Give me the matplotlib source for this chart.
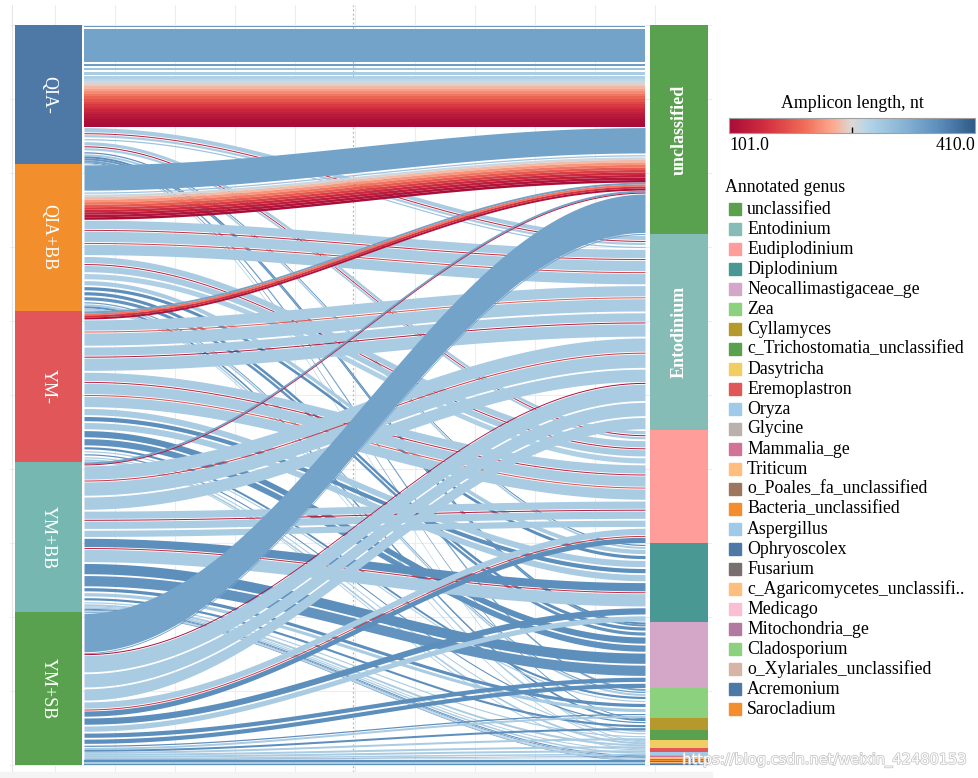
import numpy as np
import matplotlib
matplotlib.use('Agg')
import matplotlib.pyplot as plt
import matplotlib.patheffects as pe
from matplotlib.colors import LinearSegmentedColormap, Normalize
from matplotlib.cm import ScalarMappable
from matplotlib.patches import Rectangle

plt.rcParams['font.family'] = ['Liberation Serif', 'DejaVu Serif']

# samples (left axis)
samples = ['QIA-', 'QIA+BB', 'YM-', 'YM+BB', 'YM+SB']
sample_colors = ['#4e79a7', '#f28e2b', '#e15759', '#76b7b2', '#59a14f']

# genera (right axis)
genera = ['unclassified', 'Entodinium', 'Eudiplodinium', 'Diplodinium',
          'Neocallimastigaceae_ge', 'Zea', 'Cyllamyces',
          'c_Trichostomatia_unclassified', 'Dasytricha', 'Eremoplastron',
          'Oryza', 'Glycine', 'Mammalia_ge', 'Triticum',
          'o_Poales_fa_unclassified', 'Bacteria_unclassified', 'Aspergillus',
          'Ophryoscolex', 'Fusarium', 'c_Agaricomycetes_unclassifi..',
          'Medicago', 'Mitochondria_ge', 'Cladosporium',
          'o_Xylariales_unclassified', 'Acremonium', 'Sarocladium']
genus_colors = ['#59a14f', '#86bcb6', '#ff9d9a', '#499894', '#d4a6c8',
                '#8cd17d', '#b6992d', '#59a14f', '#f1ce63', '#e15759',
                '#a0cbe8', '#bab0ac', '#d37295', '#ffbe7d', '#9d7660',
                '#f28e2b', '#a0cbe8', '#4e79a7', '#79706e', '#ffbe7d',
                '#fabfd2', '#b07aa1', '#8cd17d', '#d7b5a6', '#4e79a7',
                '#f28e2b']

# ASV flows per sample: (genus, abundance, amplicon length)
qia_minus = [
    ('unclassified', 3, 352), ('unclassified', 35, 339), ('unclassified', 4, 345),
    ('unclassified', 4, 300), ('unclassified', 5, 286), ('unclassified', 2.5, 280),
    ('unclassified', 2.5, 270), ('unclassified', 2.5, 262), ('unclassified', 2.5, 250),
    ('unclassified', 2.5, 238), ('unclassified', 2.5, 226), ('unclassified', 2.5, 214),
    ('unclassified', 2.5, 202), ('unclassified', 2.5, 190), ('unclassified', 2.5, 178),
    ('unclassified', 2.5, 166), ('unclassified', 2.5, 156), ('unclassified', 2.5, 146),
    ('unclassified', 2.5, 136), ('unclassified', 2.5, 128), ('unclassified', 2.5, 120),
    ('unclassified', 2.5, 113), ('unclassified', 2.5, 107), ('unclassified', 2.5, 103),
    ('unclassified', 2.5, 101),
    ('Entodinium', 6, 286), ('Entodinium', 1, 130), ('Entodinium', 4, 286),
    ('Entodinium', 3, 300),
    ('Eudiplodinium', 5, 286), ('Eudiplodinium', 1, 115), ('Eudiplodinium', 4, 286),
    ('Diplodinium', 3, 364), ('Diplodinium', 2, 286),
    ('Neocallimastigaceae_ge', 2, 364), ('Neocallimastigaceae_ge', 2, 355),
    ('Zea', 2, 339), ('Cyllamyces', 1, 364), ('Dasytricha', 1, 286),
]
qia_bb = [
    ('unclassified', 27, 339), ('unclassified', 3, 300),
    ('unclassified', 2.5, 262), ('unclassified', 2.5, 240), ('unclassified', 2.5, 220),
    ('unclassified', 2.5, 200), ('unclassified', 2.5, 180), ('unclassified', 2.5, 160),
    ('unclassified', 2.5, 140), ('unclassified', 2.5, 125), ('unclassified', 2.5, 112),
    ('unclassified', 2.5, 103),
    ('Entodinium', 10, 286), ('Entodinium', 1, 140), ('Entodinium', 12, 286),
    ('Entodinium', 1, 160), ('Entodinium', 12, 290),
    ('Eudiplodinium', 8, 286), ('Eudiplodinium', 1, 125), ('Eudiplodinium', 8, 286),
    ('Eudiplodinium', 7, 280),
    ('Diplodinium', 6, 286), ('Diplodinium', 5, 364),
    ('Neocallimastigaceae_ge', 5, 364), ('Neocallimastigaceae_ge', 5, 358),
    ('Zea', 3, 345), ('Zea', 2, 286), ('Cyllamyces', 2, 364),
    ('c_Trichostomatia_unclassified', 2, 286), ('Dasytricha', 1, 286),
]
ym_minus = [
    ('unclassified', 2, 339), ('unclassified', 2, 200), ('unclassified', 2, 150),
    ('unclassified', 2, 110),
    ('Entodinium', 12, 286), ('Entodinium', 1, 180), ('Entodinium', 14, 286),
    ('Entodinium', 10, 286), ('Entodinium', 1, 120), ('Entodinium', 14, 286),
    ('Eudiplodinium', 10, 286), ('Eudiplodinium', 1, 130), ('Eudiplodinium', 12, 286),
    ('Eudiplodinium', 1, 170), ('Eudiplodinium', 12, 286),
    ('Diplodinium', 8, 286), ('Diplodinium', 6, 364), ('Diplodinium', 8, 286),
    ('Neocallimastigaceae_ge', 8, 364), ('Neocallimastigaceae_ge', 8, 360),
    ('Zea', 4, 364), ('Zea', 3, 286), ('Cyllamyces', 3, 364),
    ('c_Trichostomatia_unclassified', 3, 286), ('Dasytricha', 2, 286),
    ('Eremoplastron', 1, 286),
]
ym_bb = [
    ('unclassified', 2, 339), ('unclassified', 1, 118),
    ('Entodinium', 15, 286), ('Entodinium', 1, 150), ('Entodinium', 15, 286),
    ('Entodinium', 14, 286),
    ('Eudiplodinium', 9, 286), ('Eudiplodinium', 1, 120), ('Eudiplodinium', 9, 286),
    ('Eudiplodinium', 8, 286),
    ('Diplodinium', 10, 364), ('Diplodinium', 1, 140), ('Diplodinium', 14, 286),
    ('Neocallimastigaceae_ge', 12, 364), ('Neocallimastigaceae_ge', 12, 358),
    ('Zea', 5, 364), ('Zea', 5, 286), ('Cyllamyces', 4, 364),
    ('c_Trichostomatia_unclassified', 3, 286), ('Dasytricha', 2, 286),
    ('Eremoplastron', 1, 286), ('Oryza', 1.5, 286), ('Glycine', 1, 364),
    ('Mammalia_ge', 0.8, 364), ('Triticum', 0.8, 286),
    ('o_Poales_fa_unclassified', 0.8, 286), ('Bacteria_unclassified', 0.6, 364),
]
ym_sb = [
    ('unclassified', 40, 339), ('unclassified', 1, 339),
    ('Entodinium', 1, 104), ('Entodinium', 18, 286), ('Entodinium', 15, 286),
    ('Entodinium', 13, 286),
    ('Eudiplodinium', 8, 286), ('Eudiplodinium', 1, 150), ('Eudiplodinium', 7, 364),
    ('Diplodinium', 8, 364), ('Diplodinium', 7, 286),
    ('Neocallimastigaceae_ge', 6, 364), ('Neocallimastigaceae_ge', 6, 364),
    ('Zea', 3, 364), ('Zea', 2, 286), ('Cyllamyces', 2, 364),
    ('c_Trichostomatia_unclassified', 2, 286), ('Dasytricha', 2, 286),
    ('Eremoplastron', 2, 286), ('Oryza', 1.5, 286), ('Glycine', 0.5, 364),
    ('Mammalia_ge', 0.3, 364), ('Triticum', 0.3, 286),
    ('o_Poales_fa_unclassified', 0.3, 286), ('Bacteria_unclassified', 0.4, 364),
    ('Aspergillus', 0.7, 286), ('Ophryoscolex', 0.6, 364), ('Fusarium', 0.5, 364),
    ('c_Agaricomycetes_unclassifi..', 0.5, 286), ('Medicago', 0.4, 364),
    ('Mitochondria_ge', 0.4, 286), ('Cladosporium', 0.3, 364),
    ('o_Xylariales_unclassified', 0.3, 286), ('Acremonium', 0.3, 364),
    ('Sarocladium', 0.3, 286),
]
sample_flows = [qia_minus, qia_bb, ym_minus, ym_bb, ym_sb]

# colour scale for amplicon length
cmap = LinearSegmentedColormap.from_list('amplicon', [
    (0.0, '#a90c38'), (0.15, '#d32f3f'), (0.3, '#ef6a55'), (0.42, '#fca88e'),
    (0.5, '#dcd8d5'), (0.56, '#b7d5e8'), (0.7, '#8ab6d6'), (0.85, '#5d8fbd'),
    (1.0, '#2e5a87')])
norm = Normalize(101, 410)

# build records and stack them on both axes
records = []
for si, flows in enumerate(sample_flows):
    for k, (g, v, L) in enumerate(flows):
        records.append({'s': si, 'g': genera.index(g), 'v': v, 'L': L, 'k': k})

left_tot = [0.0] * len(samples)
y = 0.0
for si in range(len(samples)):
    for r in sorted([r for r in records if r['s'] == si], key=lambda r: (r['g'], r['k'])):
        r['y0'] = y
        y += r['v']
        left_tot[si] += r['v']
T = y

right_tot = [0.0] * len(genera)
y = 0.0
for gi in range(len(genera)):
    for r in sorted([r for r in records if r['g'] == gi], key=lambda r: (r['s'], r['k'])):
        r['y1'] = y
        y += r['v']
        right_tot[gi] += r['v']

W, H = 979, 778


def frac(x0, y0, x1, y1):
    return [x0 / W, 1 - y1 / H, (x1 - x0) / W, (y1 - y0) / H]


fig = plt.figure(figsize=(W / 100, H / 100), dpi=100)

# background grid
bg = fig.add_axes(frac(10, 5, 712, 772))
bg.set_xlim(10, 712)
bg.set_ylim(772, 5)
for gx in range(55, 712, 60):
    bg.axvline(gx, color='#ededed', lw=0.8)
for gy in range(25, 772, 74):
    bg.axhline(gy, color='#ededed', lw=0.8)
bg.axvline(12, color='#e6e6e6', lw=0.8)
bg.axvline(353, color='#b5b5b5', lw=0.9, ls=(0, (1.5, 2)))
bg.set_xticks([])
bg.set_yticks([])
for sp in bg.spines.values():
    sp.set_visible(False)
fig.patches.append(Rectangle((0, 0), 712 / W, 6 / H, transform=fig.transFigure,
                             color='#f4f4f4', zorder=0))

# main alluvial axes
ax = fig.add_axes(frac(15, 25, 708, 765))
ax.patch.set_alpha(0)
ax.set_xlim(0, 693)
ax.set_ylim(T, 0)
ax.axis('off')

xa, xb = 69, 630
t = np.linspace(0, 1, 120)
s = (1 - np.cos(np.pi * t)) / 2
xs = xa + (xb - xa) * t
for r in records:
    top = r['y0'] + (r['y1'] - r['y0']) * s
    bot = top + r['v']
    if r['v'] >= 3:
        top = top + 0.9
        bot = bot - 0.9
    ax.fill_between(xs, top, bot, color=cmap(norm(r['L'])), lw=0)

# left stratum
lb = 0.0
for si, name in enumerate(samples):
    ax.bar(33.5, left_tot[si], bottom=lb, width=67, color=sample_colors[si], lw=0)
    ax.text(33.5, lb + left_tot[si] / 2, name, rotation=270, color='white',
            ha='center', va='center', fontsize=13)
    lb += left_tot[si]

# right stratum
rb = 0.0
for gi, name in enumerate(genera):
    ax.bar(664, right_tot[gi], bottom=rb, width=58, color=genus_colors[gi], lw=0)
    if right_tot[gi] > 150:
        ax.text(664, rb + right_tot[gi] / 2, name, rotation=90, color='white',
                ha='center', va='center', fontsize=13, fontweight='bold')
    rb += right_tot[gi]

# colour bar
cax = fig.add_axes(frac(729, 118, 975, 133))
cb = fig.colorbar(ScalarMappable(norm=norm, cmap=cmap), cax=cax, orientation='horizontal')
cb.set_ticks([(101 + 410) / 2], labels=[''])
cax.tick_params(direction='in', length=4, width=1, color='black')
cb.outline.set_edgecolor('#a0a0a0')
fig.text(852 / W, 1 - 103 / H, 'Amplicon length, nt', ha='center', va='center', fontsize=12.8)
fig.text(729 / W, 1 - 146 / H, '101.0', ha='left', va='center', fontsize=12.8)
fig.text(975 / W, 1 - 146 / H, '410.0', ha='right', va='center', fontsize=12.8)

# genus legend
fig.text(725 / W, 1 - 188 / H, 'Annotated genus', ha='left', va='center', fontsize=12.8)
for gi, name in enumerate(genera):
    yc = 209 + 20 * gi
    fig.patches.append(Rectangle((729 / W, 1 - (yc + 6) / H), 12 / W, 12 / H,
                                 transform=fig.transFigure, color=genus_colors[gi]))
    fig.text(747 / W, 1 - yc / H, name, ha='left', va='center', fontsize=12.8)

fig.text(968 / W, 1 - 760 / H, 'https://blog.csdn.net/weixin_42480153', ha='right',
         va='center', fontsize=10.5, family='DejaVu Sans', color='white',
         path_effects=[pe.withStroke(linewidth=1.2, foreground='#c8c8c8')])

fig.savefig('out.png', dpi=100)
